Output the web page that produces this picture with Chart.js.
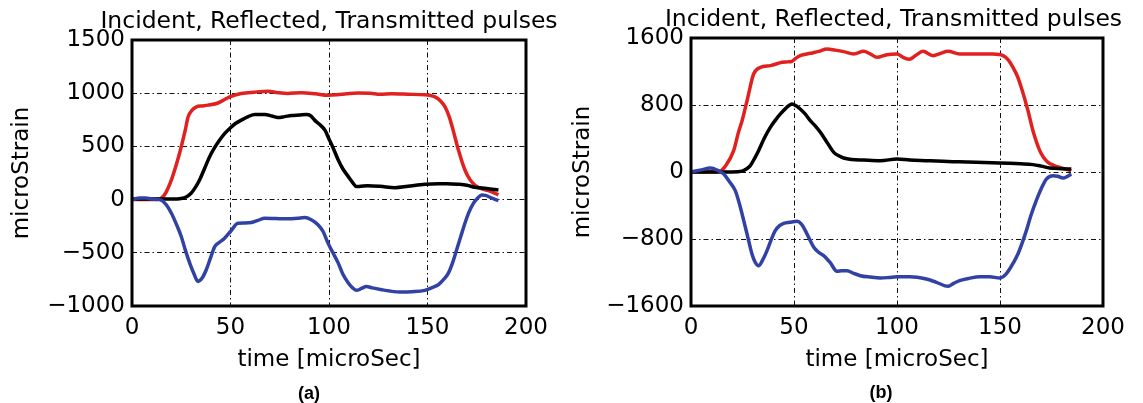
<!DOCTYPE html>
<html>
<head>
<meta charset="utf-8">
<script src="https://cdn.jsdelivr.net/npm/chart.js@4/dist/chart.umd.min.js"></script>
<style>
    html, body { margin: 0; padding: 0; background: #fff; overflow: hidden; }
    body { width: 1143px; height: 403px; position: relative; }
    canvas { position: absolute; top: 0; }
    .cap { position: absolute; font: bold 18px 'Liberation Sans', Arial, sans-serif; line-height: 18px; transform: translateX(-50%); color: #000; }
</style>
</head>
<body>
<canvas id="chartA" width="658" height="403" style="left:0px"></canvas>
<canvas id="chartB" width="667" height="403" style="left:560px"></canvas>
<div class="cap" style="left:309px;top:384px">(a)</div>
<div class="cap" style="left:881px;top:383px">(b)</div>
<script>
// ---- (a) ----
const incidentTimeA = [0, 10, 14, 17, 20, 23, 25, 27, 28.5, 30.5, 32.7, 35.5, 38.6, 42.9, 46, 49.6, 55.5, 62, 69, 74, 79, 86, 93, 99.5, 104, 109, 114.7, 121, 126, 131.8, 140, 148.7, 151, 153.8, 156.5, 158.9, 161, 163, 165.7, 169, 171.5, 174, 177, 180.9, 186];
const incidentA = [0, 0, 5, 60, 185, 360, 497, 650, 778, 840, 872, 880, 888, 903, 930, 966, 997, 1010, 1019, 1005, 997, 1005, 995, 981, 985, 995, 1003, 1000, 990, 994, 990, 985, 980, 966, 930, 872, 780, 653, 466, 278, 190, 137, 105, 84, 44];

const reflectedTimeA = [0, 4, 7, 10, 14, 17, 20, 22.5, 25, 27, 29.3, 31.5, 33.5, 35.5, 37.7, 40, 42, 44.5, 47, 50, 53.8, 57, 60.6, 64, 67.4, 73, 79.2, 84, 87.7, 91, 94.4, 97, 99.5, 102, 104.7, 107, 109.8, 112, 114, 116.5, 119, 122, 126.7, 131, 136.9, 142, 148.7, 152, 155.5, 158, 160.6, 162.8, 164.8, 167, 169, 171, 173.3, 175.5, 177.5, 179.5, 181.7, 184, 186];
const reflectedA = [0, 15, 15, 5, 0, -40, -128, -230, -347, -470, -597, -700, -769, -740, -659, -540, -441, -400, -363, -300, -222, -220, -216, -195, -175, -178, -181, -175, -169, -190, -237, -300, -409, -500, -597, -700, -784, -830, -853, -835, -816, -830, -847, -860, -869, -866, -853, -830, -800, -755, -691, -590, -472, -340, -222, -120, -35, 15, 44, 40, 22, 5, -9];

const transmittedTimeA = [0, 10, 20, 25, 27.5, 30, 32, 34.3, 37, 39.4, 42, 44.5, 47, 49.6, 52.5, 55.5, 59, 62.3, 67.4, 71, 74.1, 77.5, 80.9, 85, 88.5, 90.5, 92.7, 95, 98, 100, 102, 104.7, 107, 109.8, 112, 114, 116, 119.7, 126, 133.5, 140, 148.7, 155.5, 160, 165.7, 170, 174, 180, 186];
const transmittedA = [5, 5, 5, 10, 25, 59, 110, 185, 300, 403, 490, 560, 620, 669, 715, 747, 780, 800, 800, 785, 772, 780, 790, 795, 800, 790, 747, 710, 650, 570, 490, 372, 290, 216, 160, 122, 125, 131, 125, 112, 125, 144, 150, 150, 144, 135, 116, 105, 91];

// ---- (b) ----
const incidentTimeB = [0, 10, 14, 17, 20.7, 23, 24.8, 27.2, 30.4, 33.7, 38.5, 44.2, 47, 49, 51, 53, 57.9, 62, 66, 70, 74.1, 79, 83.8, 87, 90.3, 95.1, 100, 103, 106, 109, 112.6, 117.5, 121, 124.8, 130.4, 138.5, 146.6, 151.5, 154, 156.3, 158.5, 160.3, 163.6, 166, 169.3, 171, 173.3, 176, 179, 184.6];
const incidentB = [0, 0, 10, 80, 255, 470, 613, 851, 1170, 1250, 1270, 1310, 1315, 1322, 1360, 1389, 1417, 1440, 1469, 1455, 1437, 1409, 1441, 1410, 1369, 1401, 1409, 1369, 1345, 1390, 1441, 1389, 1415, 1441, 1409, 1409, 1409, 1389, 1340, 1250, 1140, 1011, 732, 493, 255, 180, 116, 80, 56, 16];

const reflectedTimeB = [0, 5, 9.4, 13, 15.9, 18.5, 21.5, 23.5, 25.6, 27.6, 29.6, 31.2, 32.8, 34.8, 36.9, 38.9, 40.9, 43, 45, 48, 51.5, 53.5, 55.5, 57.5, 59.6, 62, 64.4, 67.5, 70.9, 73, 75.7, 79, 82.2, 87, 91.9, 96, 100, 106.2, 114.2, 119.1, 124.8, 127.5, 130.4, 135, 140.1, 145, 149.9, 152.5, 154.7, 158.7, 162.8, 165, 167.6, 170, 172.5, 175.7, 178, 180.6, 182.5, 184.6];
const reflectedB = [0, 25, 48, 20, -24, -110, -223, -380, -581, -780, -979, -1080, -1119, -1050, -939, -810, -700, -640, -613, -600, -589, -620, -700, -800, -899, -960, -999, -1080, -1186, -1180, -1178, -1210, -1238, -1255, -1266, -1260, -1250, -1250, -1278, -1317, -1365, -1330, -1298, -1270, -1250, -1250, -1266, -1230, -1158, -979, -700, -520, -342, -200, -84, -44, -50, -72, -55, -24];

const transmittedTimeB = [0, 10, 20, 24.8, 26.8, 28.8, 30.8, 32.8, 35.5, 38.5, 41, 43.4, 46, 49, 51, 53, 55.5, 57.9, 60.5, 62.8, 66, 69.3, 72, 74.1, 78, 83.8, 91.9, 100, 106.2, 114, 122.3, 130, 138.5, 146, 154.7, 160, 166, 170, 174.1, 180, 184.6];
const transmittedB = [0, 0, 0, 10, 35, 76, 160, 255, 400, 533, 620, 693, 760, 812, 790, 752, 690, 613, 545, 474, 355, 235, 190, 167, 150, 143, 135, 155, 143, 135, 127, 122, 116, 110, 104, 98, 88, 70, 48, 40, 36];

const chartTitle = 'Incident, Reflected, Transmitted pulses';
const xLabel = 'time [microSec]';
const yLabel = 'microStrain';

const RED = '#e0211f';
const BLUE = '#3142a4';
const BLACK = '#000000';

Chart.defaults.font.family = "'DejaVu Sans', sans-serif";
Chart.defaults.color = '#000';

function toPoints(times, values) {
    return times.map((t, i) => ({ x: t, y: values[i] }));
}

function line(times, values, color) {
    return {
        data: toPoints(times, values),
        borderColor: color,
        borderWidth: 3.5,
        pointRadius: 0,
        fill: false,
        cubicInterpolationMode: 'monotone'
    };
}

// black frame round the plot area, drawn over the lines like matplotlib spines
const framePlugin = {
    id: 'frame',
    afterDatasetsDraw(chart) {
        const a = chart.chartArea;
        const ctx = chart.ctx;
        ctx.save();
        ctx.strokeStyle = '#000';
        ctx.lineWidth = 3;
        ctx.strokeRect(a.left, a.top, a.right - a.left, a.bottom - a.top);
        ctx.restore();
    }
};

function drawChart(id, cfg) {
    const grid = { color: '#111', lineWidth: 1, drawTicks: false };
    const border = { display: false, dash: [5, 3, 1.5, 3] };
    return new Chart(id, {
        type: 'line',
        data: { datasets: cfg.datasets },
        plugins: [framePlugin],
        options: {
            responsive: false,
            animation: false,
            layout: { padding: { top: 0, left: 0, right: 0, bottom: 29 } },
            plugins: {
                legend: { display: false },
                tooltip: { enabled: false },
                title: {
                    display: true,
                    text: chartTitle,
                    color: '#000',
                    font: { size: 23.5, weight: 'normal' },
                    padding: { top: cfg.titleTop, bottom: cfg.titleBottom }
                }
            },
            scales: {
                x: {
                    type: 'linear',
                    min: 0,
                    max: 200,
                    grid: grid,
                    border: border,
                    ticks: { stepSize: 50, font: { size: 23 }, padding: 8, maxRotation: 0 },
                    title: { display: true, text: xLabel, font: { size: 23 }, padding: { top: 0, bottom: 0 } },
                    afterFit: s => { s.height = 68; }
                },
                y: {
                    min: cfg.yMin,
                    max: cfg.yMax,
                    grid: grid,
                    border: border,
                    ticks: {
                        stepSize: cfg.yStep,
                        font: { size: 23 },
                        padding: 7,
                        callback: v => String(v).replace('-', '\u2212')
                    },
                    title: { display: true, text: yLabel, font: { size: 23 }, padding: { top: cfg.yTitlePad, bottom: 0 } },
                    afterFit: s => { s.width = cfg.yWidth; }
                },
                // empty right-hand axis, only there so the title centres over the plot
                spacer: {
                    axis: 'y',
                    position: 'right',
                    min: 0,
                    max: 1,
                    grid: { display: false },
                    border: { display: false },
                    ticks: { display: false },
                    afterFit: s => { s.width = cfg.rightWidth; }
                }
            }
        }
    });
}

drawChart('chartA', {
    datasets: [
        line(reflectedTimeA, reflectedA, BLUE),
        line(transmittedTimeA, transmittedA, BLACK),
        line(incidentTimeA, incidentA, RED)
    ],
    yMin: -1000, yMax: 1500, yStep: 500,
    yWidth: 132, yTitlePad: 8, rightWidth: 132,
    titleTop: 8, titleBottom: 3.8
});

drawChart('chartB', {
    datasets: [
        line(reflectedTimeB, reflectedB, BLUE),
        line(transmittedTimeB, transmittedB, BLACK),
        line(incidentTimeB, incidentB, RED)
    ],
    yMin: -1600, yMax: 1600, yStep: 800,
    yWidth: 131, yTitlePad: 9, rightWidth: 124,
    titleTop: 6, titleBottom: 3.8
});
</script>
</body>
</html>
